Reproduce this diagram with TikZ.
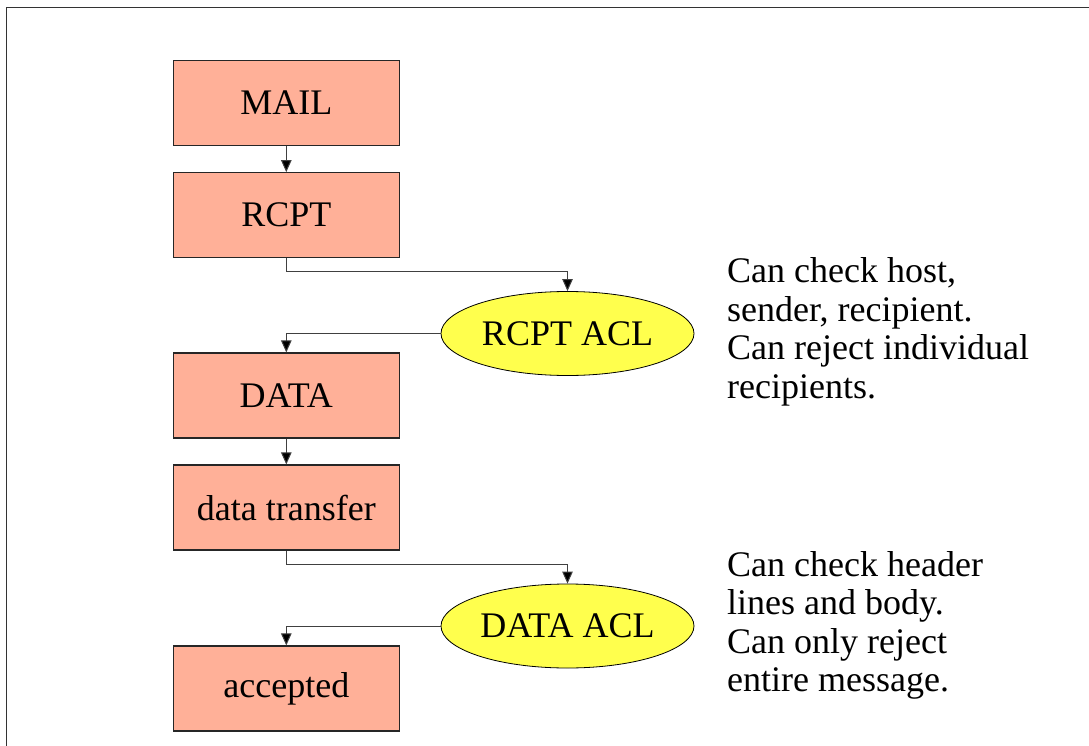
\documentclass[tikz,border=0pt]{standalone}
\usepackage{fontspec}
\setmainfont{Liberation Serif}
\usetikzlibrary{arrows.meta,shapes.geometric}
\definecolor{boxfill}{RGB}{255,176,152}
\definecolor{aclfill}{RGB}{255,255,77}
\begin{document}
\begin{tikzpicture}[x=1pt,y=-1pt,
  stepbox/.style={draw=black!85,line width=1.2pt,fill=boxfill,minimum width=226pt,minimum height=85pt,inner sep=0pt,font=\fontsize{36}{38.5}\selectfont},
  aclnode/.style={ellipse,draw=black,line width=0.8pt,fill=aclfill,minimum width=253pt,minimum height=84pt,inner sep=0pt,font=\fontsize{36}{38.5}\selectfont},
  note/.style={anchor=base west,align=left,inner sep=0pt,font=\fontsize{36}{38.5}\selectfont},
  conn/.style={draw=black!75,line width=1pt,-{Triangle[length=12pt,width=10.5pt,fill=black]}}]
\useasboundingbox (0,0) rectangle (1089,746);
\draw[black!80,line width=1.6pt] (1100,7.5) -- (6.5,7.5) -- (6.5,760);
\node[stepbox] (mail) at (286.3,102.8) {MAIL};
\node[stepbox] (rcpt) at (286.3,215.2) {RCPT};
\node[aclnode] (racl) at (567.5,333.5) {RCPT ACL};
\node[stepbox] (data) at (286.3,395.5) {DATA};
\node[stepbox] (xfer) at (286.3,507.5) {data transfer};
\node[aclnode] (dacl) at (567.5,626) {DATA ACL};
\node[stepbox] (acc) at (286.3,688.5) {accepted};
\node[note] (n1) at (727,398) {Can check host,\\sender, recipient.\\Can reject individual\\recipients.};
\node[note] (n2) at (727,691.7) {Can check header\\lines and body.\\Can only reject\\entire message.};
\draw[conn] (mail) -- (rcpt);
\draw[conn] (rcpt.south) |- ++(0,13.5) -| (racl.north);
\draw[conn] (racl.west) -| (data.north);
\draw[conn] (data) -- (xfer);
\draw[conn] (xfer.south) |- ++(0,14) -| (dacl.north);
\draw[conn] (dacl.west) -| (acc.north);
\end{tikzpicture}
\end{document}
